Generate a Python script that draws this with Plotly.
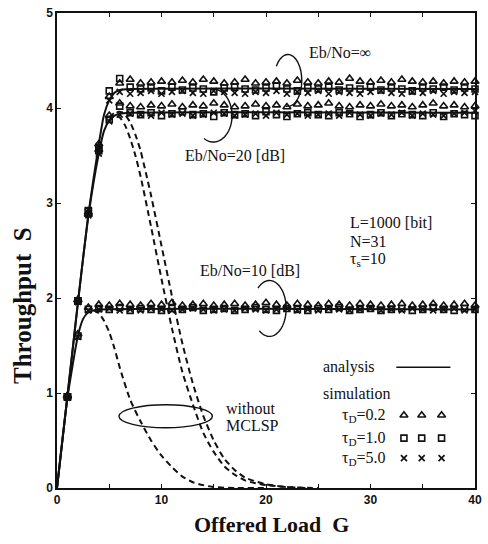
import numpy as np
import plotly.graph_objects as go

# ---------------- data ----------------
G_sim = list(range(1, 41))

# analysis curves (solid)
ana_inf_G = [0, 1, 2, 3, 4, 4.5, 5, 5.5, 6, 7, 40]
ana_inf_S = [0, 0.97, 1.95, 2.88, 3.62, 3.93, 4.08, 4.16, 4.19, 4.2, 4.2]
ana_20_G = [0, 1, 2, 3, 4, 4.5, 5, 5.5, 6, 7, 40]
ana_20_S = [0, 0.97, 1.95, 2.86, 3.52, 3.76, 3.87, 3.92, 3.94, 3.95, 3.95]
ana_10_G = [0, 1, 2, 2.5, 3, 3.5, 4, 40]
ana_10_S = [0, 0.95, 1.6, 1.78, 1.85, 1.87, 1.88, 1.88]

# without MCLSP (dashed)
wo_10_G = [3.5, 4, 4.5, 5, 5.5, 6, 7, 8, 9, 10, 11, 12, 13, 14, 15, 17, 20]
wo_10_S = [1.87, 1.84, 1.76, 1.64, 1.47, 1.27, 0.93, 0.7, 0.5, 0.34, 0.22, 0.12, 0.06, 0.03, 0.01, 0, 0]
wo_20_G = [5, 5.5, 6, 6.5, 7, 7.5, 8, 9, 10, 11, 12, 13, 14, 15, 16, 17, 18, 19, 20, 22, 24]
wo_20_S = [3.87, 3.92, 3.9, 3.82, 3.68, 3.5, 3.28, 2.75, 2.2, 1.68, 1.22, 0.88, 0.58, 0.38, 0.23,
           0.14, 0.08, 0.05, 0.03, 0.01, 0]
wo_inf_G = [5, 5.5, 6, 6.5, 7, 7.5, 8, 8.5, 9, 10, 11, 12, 13, 14, 15, 16, 17, 18, 19, 20, 22, 25]
wo_inf_S = [3.9, 3.95, 3.96, 3.93, 3.85, 3.72, 3.55, 3.32, 3.08, 2.55, 2.02, 1.52, 1.1, 0.76, 0.5,
            0.31, 0.19, 0.11, 0.07, 0.04, 0.01, 0]

# simulation: Eb/No = inf
inf_tri = [0.97, 1.98, 2.90, 3.62, 4.12, 4.26, 4.30, 4.26, 4.27, 4.28, 4.27, 4.29, 4.27, 4.30, 4.28,
           4.26, 4.27, 4.30, 4.26, 4.27, 4.28, 4.26, 4.29, 4.27, 4.26, 4.28, 4.27, 4.31, 4.28, 4.27,
           4.29, 4.27, 4.30, 4.28, 4.27, 4.28, 4.26, 4.28, 4.27, 4.28]
inf_sq = [0.96, 1.97, 2.92, 3.58, 4.18, 4.31, 4.22, 4.20, 4.21, 4.18, 4.22, 4.19, 4.21, 4.20, 4.17,
          4.21, 4.22, 4.20, 4.19, 4.21, 4.23, 4.20, 4.18, 4.21, 4.20, 4.22, 4.19, 4.21, 4.20, 4.22,
          4.19, 4.21, 4.20, 4.18, 4.21, 4.20, 4.22, 4.19, 4.21, 4.20]
inf_x = [0.95, 1.96, 2.89, 3.60, 4.08, 4.17, 4.15, 4.16, 4.18, 4.15, 4.17, 4.18, 4.16, 4.15, 4.18,
         4.17, 4.16, 4.15, 4.17, 4.16, 4.18, 4.15, 4.17, 4.16, 4.18, 4.15, 4.17, 4.16, 4.15, 4.17,
         4.18, 4.16, 4.15, 4.17, 4.16, 4.18, 4.15, 4.17, 4.16, 4.17]
# simulation: Eb/No = 20 dB
db20_tri = [0.97, 1.98, 2.88, 3.56, 3.92, 4.05, 4.02, 4.01, 4.03, 4.02, 4.04, 4.01, 4.03, 4.02, 4.05,
            4.03, 4.01, 4.02, 4.04, 4.02, 4.03, 4.01, 4.04, 4.02, 4.03, 4.05, 4.02, 4.01, 4.03, 4.02,
            4.04, 4.02, 4.03, 4.01, 4.03, 4.05, 4.02, 4.03, 4.01, 4.02]
db20_sq = [0.96, 1.97, 2.91, 3.55, 3.88, 4.02, 3.95, 3.93, 3.95, 3.92, 3.94, 3.96, 3.93, 3.94, 3.91,
           3.95, 3.93, 3.94, 3.92, 3.96, 3.93, 3.91, 3.94, 3.95, 3.93, 3.92, 3.95, 3.94, 3.91, 3.93,
           3.95, 3.92, 3.94, 3.93, 3.92, 3.95, 3.91, 3.94, 3.93, 3.92]
db20_x = [0.95, 1.96, 2.87, 3.52, 3.86, 3.93, 3.94, 3.93, 3.92, 3.95, 3.93, 3.94, 3.92, 3.93, 3.95,
          3.94, 3.92, 3.93, 3.94, 3.92, 3.95, 3.93, 3.94, 3.92, 3.93, 3.94, 3.92, 3.95, 3.93, 3.92,
          3.94, 3.93, 3.95, 3.92, 3.94, 3.93, 3.92, 3.94, 3.95, 3.97]
# simulation: Eb/No = 10 dB
db10_tri = [0.97, 1.62, 1.90, 1.93, 1.92, 1.94, 1.93, 1.92, 1.94, 1.93, 1.95, 1.92, 1.93, 1.94, 1.92,
            1.93, 1.94, 1.92, 1.93, 1.95, 1.93, 1.92, 1.94, 1.93, 1.92, 1.94, 1.93, 1.92, 1.94, 1.93,
            1.92, 1.93, 1.94, 1.92, 1.93, 1.94, 1.92, 1.93, 1.94, 1.92]
db10_sq = [0.96, 1.60, 1.88, 1.89, 1.88, 1.90, 1.87, 1.89, 1.88, 1.87, 1.89, 1.88, 1.90, 1.87, 1.88,
           1.89, 1.87, 1.88, 1.90, 1.88, 1.87, 1.89, 1.88, 1.87, 1.89, 1.88, 1.90, 1.87, 1.88, 1.89,
           1.87, 1.88, 1.89, 1.87, 1.88, 1.90, 1.88, 1.87, 1.89, 1.88]
db10_x = [0.95, 1.59, 1.87, 1.88, 1.89, 1.87, 1.88, 1.87, 1.89, 1.88, 1.87, 1.88, 1.89, 1.88, 1.87,
          1.88, 1.87, 1.89, 1.88, 1.87, 1.88, 1.89, 1.87, 1.88, 1.87, 1.89, 1.88, 1.87, 1.88, 1.89,
          1.87, 1.88, 1.87, 1.89, 1.88, 1.87, 1.88, 1.89, 1.87, 1.88]

x_tickvals = [0, 10, 20, 30, 40]
x_ticktext = ["0", "10", "20", "30", "40"]
y_tickvals = [0, 1, 2, 3, 4, 5]
y_ticktext = ["0", "1", "2", "3", "4", "5"]

# legend sample positions (in G units) and rows (in S units)
legend_marker_G = [33.2, 34.9, 36.8]
legend_rows_S = [0.766, 0.525, 0.315]

SERIF = "Liberation Serif, Times New Roman, serif"
SANS = "Liberation Sans, Arial, sans-serif"
BLACK = "#111111"

fig = go.Figure()

# analysis curves
for gx, sy in [(ana_inf_G, ana_inf_S), (ana_20_G, ana_20_S), (ana_10_G, ana_10_S)]:
    fig.add_trace(go.Scatter(x=gx, y=sy, mode="lines", showlegend=False, hoverinfo="skip",
                             line=dict(color=BLACK, width=2, shape="spline", smoothing=0.6)))
# without MCLSP curves
for gx, sy in [(wo_10_G, wo_10_S), (wo_20_G, wo_20_S), (wo_inf_G, wo_inf_S)]:
    fig.add_trace(go.Scatter(x=gx, y=sy, mode="lines", showlegend=False, hoverinfo="skip",
                             line=dict(color=BLACK, width=2, dash="6px,4px",
                                       shape="spline", smoothing=0.6)))

tri = dict(symbol="triangle-up-open", size=7, color=BLACK, line=dict(width=1.6, color=BLACK))
sq = dict(symbol="square-open", size=6, color=BLACK, line=dict(width=1.6, color=BLACK))
xx = dict(symbol="x-thin-open", size=6, color=BLACK, line=dict(width=1.7, color=BLACK))

for series, mk in [(inf_tri, tri), (inf_sq, sq), (inf_x, xx),
                   (db20_tri, tri), (db20_sq, sq), (db20_x, xx),
                   (db10_tri, tri), (db10_sq, sq), (db10_x, xx)]:
    fig.add_trace(go.Scatter(x=G_sim, y=series, mode="markers", marker=mk,
                             showlegend=False, hoverinfo="skip", cliponaxis=False))

# legend samples
for rowS, mk in zip(legend_rows_S, [tri, sq, xx]):
    fig.add_trace(go.Scatter(x=legend_marker_G, y=[rowS] * len(legend_marker_G), mode="markers",
                             marker=mk, showlegend=False, hoverinfo="skip"))

# ---------- arcs ----------
def arc_path(cx, cy, rx, ry, a0, a1, n=60):
    t = np.radians(np.linspace(a0, a1, n))
    xs = cx + rx * np.cos(t)
    ys = cy + ry * np.sin(t)
    return "M " + " L ".join(f"{a:.4f},{b:.4f}" for a, b in zip(xs, ys))

arc_line = dict(color=BLACK, width=1.4)
for cx, cy, rx, ry, a0, a1 in [(22.1, 4.29, 1.32, 0.273, 147, -100),
                               (14.96, 3.92, 1.79, 0.278, 100, -120),
                               (20.33, 1.89, 1.6, 0.294, 133, -127)]:
    fig.add_shape(type="path", xref="x", yref="y", path=arc_path(cx, cy, rx, ry, a0, a1),
                  line=arc_line)
fig.add_shape(type="circle", xref="x", yref="y", x0=10.4 - 4.47, x1=10.4 + 4.47,
              y0=0.756 - 0.121, y1=0.756 + 0.121, line=arc_line)

# legend analysis line
fig.add_shape(type="line", xref="x", yref="y", x0=32.47, x1=37.65, y0=1.27, y1=1.27,
              line=dict(color=BLACK, width=1.5))

def txt(x, y, s, anchor="left", size=16):
    fig.add_annotation(x=x, y=y, xref="x", yref="y", text=s, showarrow=False,
                       xanchor=anchor, yanchor="middle",
                       font=dict(family=SERIF, size=size, color=BLACK))

txt(27.1, 4.58, "Eb/No=∞", "center")
txt(17.0, 3.50, "Eb/No=20 [dB]", "center")
txt(18.45, 2.29, "Eb/No=10 [dB]", "center")
txt(27.86, 2.79, "L=1000 [bit]")
txt(27.86, 2.60, "N=31")
txt(27.86, 2.41, "τ<sub>s</sub>=10")
txt(16.0, 0.84, "without")
txt(16.0, 0.66, "MCLSP")
txt(25.22, 1.27, "analysis")
txt(25.22, 1.00, "simulation")
txt(27.1, legend_rows_S[0], "τ<sub>D</sub>=0.2")
txt(27.1, legend_rows_S[1], "τ<sub>D</sub>=1.0")
txt(27.1, legend_rows_S[2], "τ<sub>D</sub>=5.0")

# axis titles
fig.add_annotation(x=(22 - 57) / 425, y=(488 - 305) / 476, xref="paper", yref="paper",
                   xanchor="center", yanchor="middle",
                   text="Throughput\u00a0\u00a0S", showarrow=False, textangle=-90,
                   font=dict(family=SERIF, size=25, color=BLACK, weight=700))
fig.add_annotation(x=(275 - 57) / 425, y=-(525 - 488) / 476, xref="paper", yref="paper",
                   xanchor="center", yanchor="middle",
                   text="Offered Load\u00a0\u00a0G", showarrow=False,
                   font=dict(family=SERIF, size=22, color=BLACK, weight=700))

axis_common = dict(showgrid=False, zeroline=False, showline=True, linecolor=BLACK, linewidth=1.5,
                   mirror="allticks", ticks="inside", ticklen=4, tickwidth=1, tickcolor=BLACK,
                   tickfont=dict(family=SANS, size=12, color=BLACK, weight=700))

fig.update_layout(
    width=488, height=544,
    margin=dict(l=57, r=6, t=12, b=56),
    paper_bgcolor="white", plot_bgcolor="white",
    xaxis=dict(range=[0, 40], tickvals=x_tickvals, ticktext=x_ticktext,
               minor=dict(ticks="inside", tick0=0, dtick=5, ticklen=4, tickwidth=1,
                          tickcolor=BLACK, showgrid=False),
               **axis_common),
    yaxis=dict(range=[0, 5], tickvals=y_tickvals, ticktext=y_ticktext, **axis_common),
    showlegend=False,
)

fig.write_html("out.html")
